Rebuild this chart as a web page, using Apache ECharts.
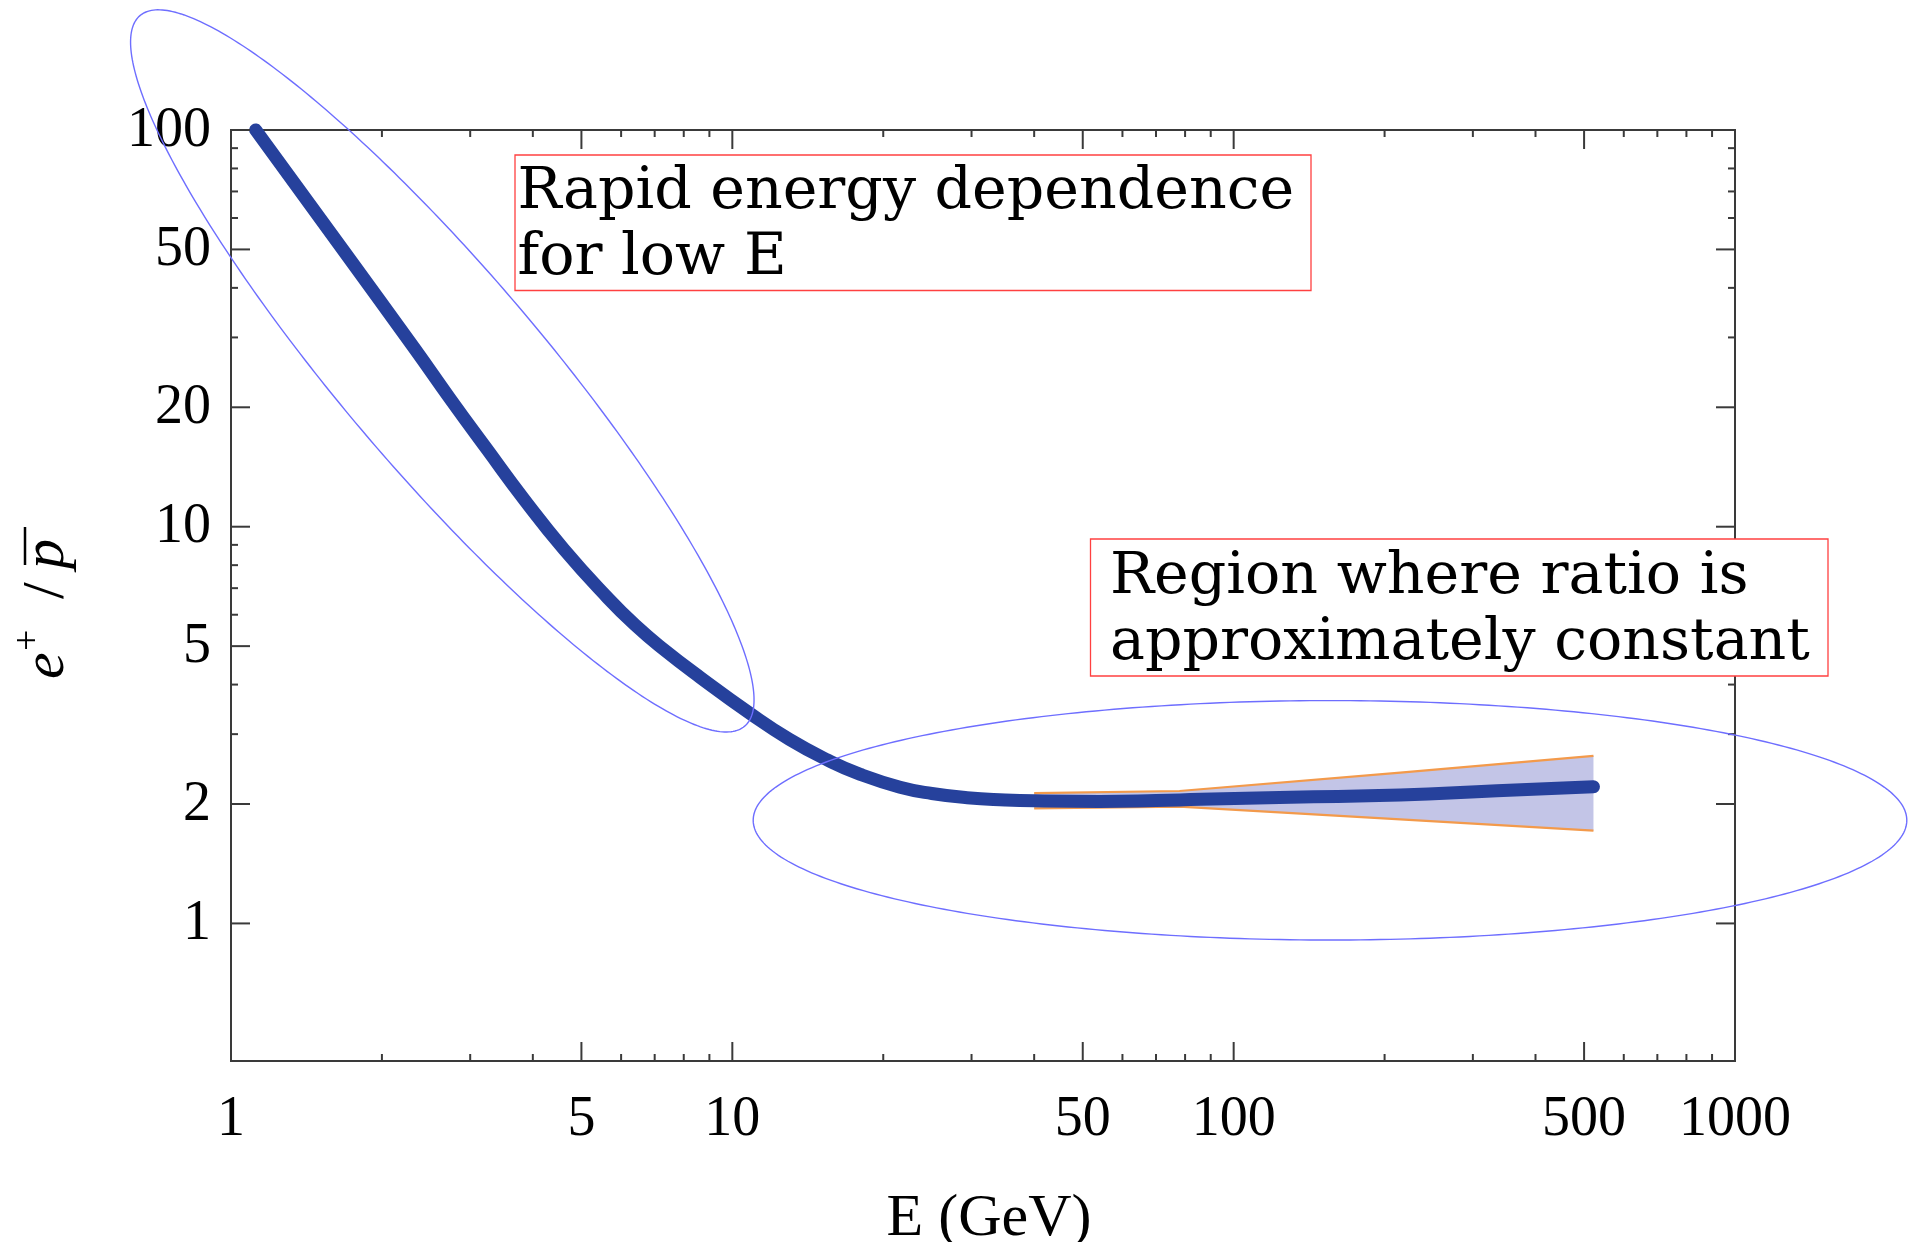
<!DOCTYPE html>
<html><head><meta charset="utf-8">
<script src="https://cdn.jsdelivr.net/npm/echarts@6/dist/echarts.min.js"></script>
<style>html,body{margin:0;padding:0;background:#fff}#c{width:1914px;height:1242px}</style>
</head><body><div id="c"></div>
<script>
// ---- data ----
const curveE = [1.12, 1.67, 2.33, 2.74, 3.24, 3.84, 4.61, 5.62, 6.4, 7.29, 8.63, 10.86, 13, 15.5, 18, 21.6, 25, 29.4, 35, 40, 54, 70, 86, 130, 215, 335, 522];
const curveV = [100, 50, 28, 20.96, 15.68, 11.73, 8.78, 6.65, 5.65, 4.91, 4.17, 3.38, 2.91, 2.58, 2.375, 2.205, 2.126, 2.075, 2.048, 2.037, 2.03, 2.04, 2.055, 2.08, 2.106, 2.16, 2.21];
const bandE = [40, 78, 215, 522];
const bandUpper = [2.13, 2.157, 2.40, 2.645];
const bandLower = [1.95, 1.97, 1.83, 1.713];
const xMajorTicks = [1, 5, 10, 50, 100, 500, 1000];
const xTickLabels = ['1', '5', '10', '50', '100', '500', '1000'];
const xMinorTicks = [2, 3, 4, 6, 7, 8, 9, 20, 30, 40, 60, 70, 80, 90, 200, 300, 400, 600, 700, 800, 900];
const yMajorTicks = [1, 2, 5, 10, 20, 50, 100];
const yTickLabels = ['1', '2', '5', '10', '20', '50', '100'];
const yMinorTicks = [3, 4, 6, 7, 8, 9, 30, 40, 60, 70, 80, 90];
const boxText1 = ['Rapid energy dependence', 'for low E'];
const boxText2 = ['Region where ratio is', 'approximately constant'];
const xTitle = 'E (GeV)';

// ---- styling ----
const AX = '#3a3a3a';
const TICKFONT = '56px "Liberation Serif"';
const BOXFONT = '58.6px "DejaVu Serif"';
const ELL = '#6e6eff';
const BOXRED = '#ff4040';

const chart = echarts.init(document.getElementById('c'), null, {renderer: 'canvas'});

function tickSeries(values, labels, axis, major) {
  return {
    type: 'custom', silent: true, clip: false, z: 5,
    data: values.map((v, i) => axis === 'x' ? [v, 1, i] : [1, v, i]),
    renderItem: function (params, api) {
      const cs = params.coordSys;
      const len = major ? 19 : 7;
      const children = [];
      if (axis === 'x') {
        const x = api.coord([api.value(0), 1])[0];
        const yb = cs.y + cs.height, yt = cs.y;
        children.push({type: 'line', shape: {x1: x, y1: yb, x2: x, y2: yb - len}, style: {stroke: AX, lineWidth: 2}});
        children.push({type: 'line', shape: {x1: x, y1: yt, x2: x, y2: yt + len}, style: {stroke: AX, lineWidth: 2}});
        if (labels) children.push({type: 'text', x: x, y: yb + 59,
          style: {text: labels[api.value(2)], font: TICKFONT, fill: '#000', align: 'center', verticalAlign: 'middle'}});
      } else {
        const y = api.coord([1, api.value(1)])[1];
        const xl = cs.x, xr = cs.x + cs.width;
        children.push({type: 'line', shape: {x1: xl, y1: y, x2: xl + len, y2: y}, style: {stroke: AX, lineWidth: 2}});
        children.push({type: 'line', shape: {x1: xr, y1: y, x2: xr - len, y2: y}, style: {stroke: AX, lineWidth: 2}});
        if (labels) children.push({type: 'text', x: xl - 20, y: y + 1,
          style: {text: labels[api.value(2)], font: TICKFONT, fill: '#000', align: 'right', verticalAlign: 'middle'}});
      }
      return {type: 'group', children: children};
    }
  };
}

function ellipsePts(cx, cy, a, b, deg) {
  const t = deg * Math.PI / 180, pts = [];
  for (let k = 0; k < 360; k++) {
    const u = 2 * Math.PI * k / 360;
    const ex = a * Math.cos(u), ey = b * Math.sin(u);
    pts.push([cx + ex * Math.cos(t) - ey * Math.sin(t), cy + ex * Math.sin(t) + ey * Math.cos(t)]);
  }
  return pts;
}

const option = {
  backgroundColor: '#ffffff',
  animation: false,
  grid: {left: 231, top: 130, right: 179, bottom: 181, outerBoundsMode: 'none', containLabel: false,
    show: true, borderColor: AX, borderWidth: 2, backgroundColor: 'transparent'},
  xAxis: {
    type: 'log', logBase: 10, min: 1, max: 1000,
    axisLine: {show: false}, axisTick: {show: false}, axisLabel: {show: false}, splitLine: {show: false},
    name: xTitle, nameLocation: 'middle', nameGap: 128,
    nameTextStyle: {fontFamily: 'Liberation Serif', fontSize: 60, color: '#000', verticalAlign: 'top', padding: [0, 0, 0, 12]}
  },
  yAxis: {
    type: 'log', logBase: 10, min: 0.45, max: 100,
    axisLine: {show: false}, axisTick: {show: false}, axisLabel: {show: false}, splitLine: {show: false}
  },
  series: [
    {
      type: 'custom', silent: true, z: 3,
      data: [[bandE[0], bandUpper[0]]],
      renderItem: function (params, api) {
        const up = bandE.map((e, i) => api.coord([e, bandUpper[i]]));
        const lo = bandE.map((e, i) => api.coord([e, bandLower[i]]));
        return {type: 'group', children: [
          {type: 'polygon', shape: {points: up.concat(lo.slice().reverse())}, style: {fill: '#c3c5e7'}},
          {type: 'polyline', shape: {points: up}, style: {stroke: '#f39a4b', lineWidth: 2.2, fill: null}},
          {type: 'polyline', shape: {points: lo}, style: {stroke: '#f39a4b', lineWidth: 2.2, fill: null}}
        ]};
      }
    },
    {
      type: 'line', z: 4, clip: false, showSymbol: false, smooth: 0.5,
      data: curveE.map((e, i) => [e, curveV[i]]),
      lineStyle: {color: '#26419c', width: 13, cap: 'round', join: 'round'},
      itemStyle: {color: '#26419c'}
    },
    tickSeries(xMajorTicks, xTickLabels, 'x', true),
    tickSeries(xMinorTicks, null, 'x', false),
    tickSeries(yMajorTicks, yTickLabels, 'y', true),
    tickSeries(yMinorTicks, null, 'y', false)
  ],
  graphic: [
    {type: 'polygon', z: 100, silent: true, shape: {points: ellipsePts(442.3, 370.9, 466.5, 99.7, 49.6)}, style: {fill: null, stroke: ELL, lineWidth: 1.4}},
    {type: 'polygon', z: 100, silent: true, shape: {points: ellipsePts(1330, 820.3, 576.8, 119.7, 0)}, style: {fill: null, stroke: ELL, lineWidth: 1.4}},
    {type: 'rect', z: 101, silent: true, shape: {x: 515, y: 155, width: 796, height: 135.5}, style: {fill: '#fff', stroke: BOXRED, lineWidth: 1.3}},
    {type: 'text', z: 102, silent: true, x: 517.5, y: 192.5, style: {text: boxText1[0], font: BOXFONT, fill: '#000', align: 'left', verticalAlign: 'middle'}},
    {type: 'text', z: 102, silent: true, x: 517.5, y: 259.2, style: {text: boxText1[1], font: BOXFONT, fill: '#000', align: 'left', verticalAlign: 'middle'}},
    {type: 'rect', z: 101, silent: true, shape: {x: 1090.5, y: 539, width: 737.5, height: 137}, style: {fill: '#fff', stroke: BOXRED, lineWidth: 1.3}},
    {type: 'text', z: 102, silent: true, x: 1110, y: 577.5, style: {text: boxText2[0], font: BOXFONT, fill: '#000', align: 'left', verticalAlign: 'middle'}},
    {type: 'text', z: 102, silent: true, x: 1110, y: 644.2, style: {text: boxText2[1], font: BOXFONT, fill: '#000', align: 'left', verticalAlign: 'middle'}},
    {
      type: 'group', x: 65, y: 602, rotation: Math.PI / 2, silent: true, z: 102,
      children: [
        {type: 'text', x: -77, y: -18, style: {text: 'e', font: 'italic 60px "Liberation Serif"', fill: '#000', align: 'left', verticalAlign: 'middle'}},
        {type: 'text', x: -49, y: -36, style: {text: '+', font: '38px "Liberation Serif"', fill: '#000', align: 'left', verticalAlign: 'middle'}},
        {type: 'text', x: 3, y: -18, style: {text: '/', font: '60px "Liberation Serif"', fill: '#000', align: 'left', verticalAlign: 'middle'}},
        {type: 'text', x: 33, y: -18, style: {text: 'p', font: 'italic 60px "Liberation Serif"', fill: '#000', align: 'left', verticalAlign: 'middle'}},
        {type: 'line', shape: {x1: 37, y1: -40, x2: 75, y2: -40}, style: {stroke: '#000', lineWidth: 2.5}}
      ]
    }
  ]
};
chart.setOption(option);
</script>
</body></html>
